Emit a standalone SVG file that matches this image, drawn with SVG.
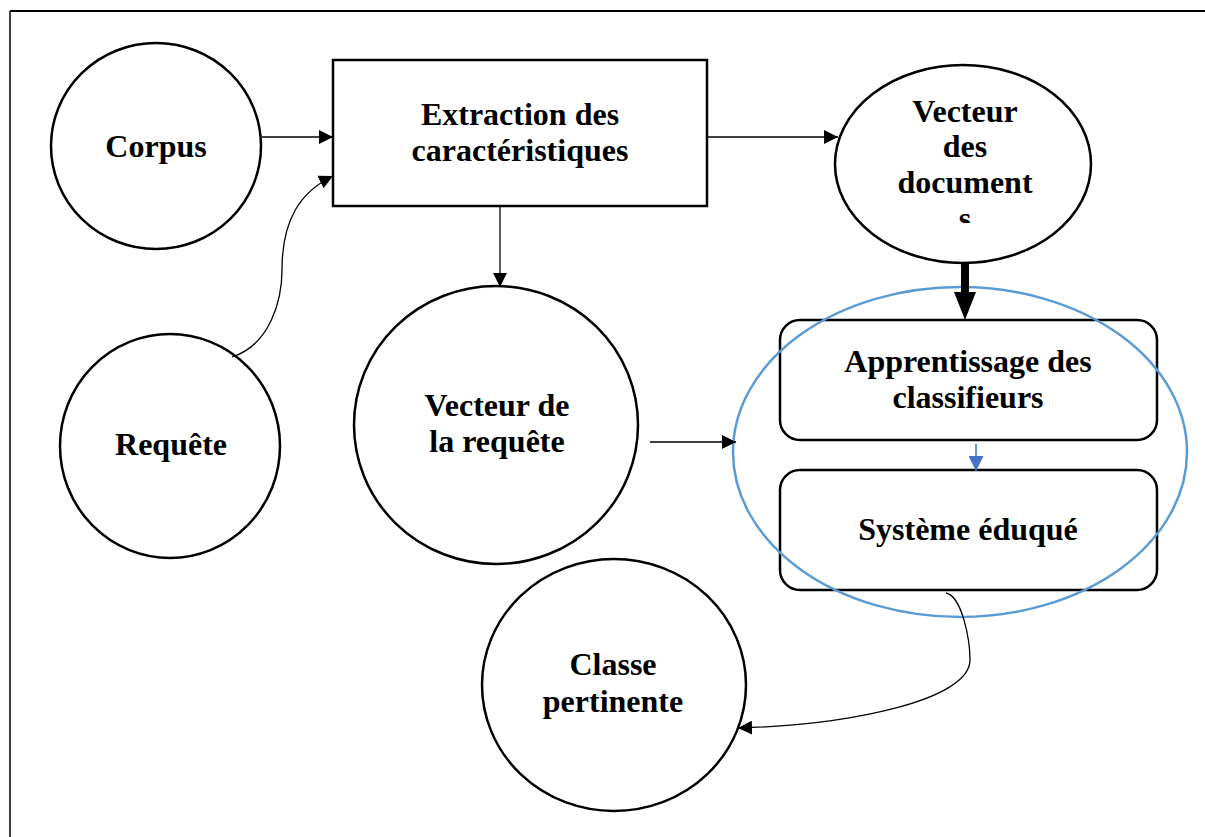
<svg xmlns="http://www.w3.org/2000/svg" width="1205" height="837" viewBox="0 0 1205 837">
<style>
.n{fill:#fff;stroke:#000;stroke-width:2.5}
.t{font-family:"Liberation Serif","Times New Roman",serif;font-weight:bold;font-size:32px;fill:#000;text-anchor:middle}
.c{fill:none;stroke:#000;stroke-width:1.3}
</style>
<defs>
<marker id="ah" viewBox="0 0 10 10" refX="10" refY="5" markerWidth="14" markerHeight="14" markerUnits="userSpaceOnUse" orient="auto"><path d="M0,0L10,5L0,10z" fill="#000"/></marker>
<marker id="ahb" viewBox="0 0 10 10" refX="10" refY="5" markerWidth="15" markerHeight="15" markerUnits="userSpaceOnUse" orient="auto"><path d="M0,0L10,5L0,10z" fill="#4472C4"/></marker>
<clipPath id="clipV"><rect x="830" y="60" width="270" height="163"/></clipPath>
</defs>
<rect width="1205" height="837" fill="#fff"/>
<g id="frame" fill="none" stroke="#000">
<path d="M1205,11H10" stroke-width="2"/>
<path d="M10,11V837" stroke-width="1.5"/>
</g>
<g id="corpus"><ellipse class="n" cx="156" cy="146" rx="105" ry="103"/><text class="t" x="156" y="157">Corpus</text></g>
<g id="requete"><ellipse class="n" cx="170" cy="446" rx="110" ry="112"/><text class="t" x="171" y="455">Requête</text></g>
<g id="extraction"><rect class="n" x="333" y="60" width="374" height="146"/><text class="t" x="520" y="125">Extraction des</text><text class="t" x="520" y="161">caractéristiques</text></g>
<g id="vecteur-docs"><ellipse class="n" cx="963" cy="164" rx="128" ry="99"/><g clip-path="url(#clipV)"><text class="t" x="965" y="122">Vecteur</text><text class="t" x="965" y="157">des</text><text class="t" x="965" y="193">document</text><text class="t" x="965" y="229">s</text></g></g>
<g id="vecteur-requete"><ellipse class="n" cx="496" cy="425" rx="142" ry="139"/><text class="t" x="497" y="416">Vecteur de</text><text class="t" x="497" y="452">la requête</text></g>
<g id="apprentissage"><rect class="n" x="780" y="320" width="377" height="120" rx="20"/><text class="t" x="968" y="372">Apprentissage des</text><text class="t" x="968" y="408">classifieurs</text></g>
<g id="systeme"><rect class="n" x="780" y="470" width="377" height="120" rx="20"/><text class="t" x="968" y="540">Système éduqué</text></g>
<g id="classe"><ellipse class="n" cx="614" cy="685" rx="132" ry="126"/><text class="t" x="613" y="675">Classe</text><text class="t" x="613" y="712">pertinente</text></g>
<g id="groupe"><ellipse cx="960" cy="452" rx="227" ry="165" fill="none" stroke="#5B9BD5" stroke-width="2.5"/></g>
<g id="connectors">
<path class="c" d="M262,137H333" marker-end="url(#ah)"/>
<path class="c" d="M232,357C270,345 282,300 282,270C282,220 300,192 333,176" marker-end="url(#ah)"/>
<path class="c" d="M707,137H838" marker-end="url(#ah)"/>
<path class="c" d="M500,206V287" marker-end="url(#ah)"/>
<path class="c" d="M650,442H736" marker-end="url(#ah)"/>
<path d="M965,263V294" stroke="#000" stroke-width="8" fill="none"/>
<path d="M954,292H976L965,320z" fill="#000"/>
<path d="M976,444V471" stroke="#4472C4" stroke-width="1.5" fill="none" marker-end="url(#ahb)"/>
<path class="c" d="M946,593C962,596 970,640 970,660C970,700 850,725 738,728" marker-end="url(#ah)"/>
</g>
</svg>
